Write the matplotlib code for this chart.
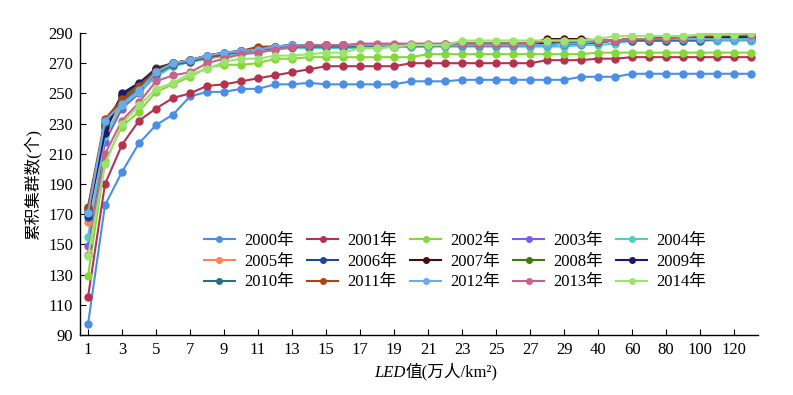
import matplotlib
matplotlib.use("Agg")
import matplotlib.pyplot as plt
from matplotlib.offsetbox import TextArea, HPacker, AnchoredOffsetbox

plt.rcParams['font.family'] = ['Liberation Serif', 'Noto Sans CJK SC']

x_labels = [str(v) for v in list(range(1, 31)) + [40, 50, 60, 70, 80, 90, 100, 110, 120, 130]]
years = ['2000年', '2001年', '2002年', '2003年', '2004年', '2005年', '2006年', '2007年',
         '2008年', '2009年', '2010年', '2011年', '2012年', '2013年', '2014年']

y2000 = [97, 176, 198, 217, 229, 236, 248, 251, 251, 253, 253, 256, 256, 257, 256, 256, 256, 256, 256, 258,
         258, 258, 259, 259, 259, 259, 259, 259, 259, 261, 261, 261, 263, 263, 263, 263, 263, 263, 263, 263]
y2001 = [115, 190, 216, 232, 240, 247, 250, 255, 256, 258, 260, 262, 264, 266, 268, 268, 268, 268, 268, 270,
         270, 270, 270, 270, 270, 270, 270, 272, 272, 272, 273, 273, 274, 274, 274, 274, 274, 274, 274, 274]
y2002 = [129, 205, 228, 238, 251, 256, 261, 267, 269, 269, 270, 273, 273, 274, 274, 274, 274, 274, 274, 274,
         276, 276, 276, 276, 276, 276, 276, 276, 276, 276, 277, 277, 277, 277, 277, 277, 277, 277, 277, 277]
y2003 = [149, 218, 240, 250, 262, 268, 271, 273, 275, 277, 279, 280, 281, 281, 281, 281, 281, 281, 281, 281,
         281, 282, 282, 282, 282, 282, 282, 282, 283, 283, 284, 285, 285, 285, 285, 286, 286, 286, 286, 286]
y2004 = [155, 222, 242, 251, 261, 268, 271, 273, 275, 276, 277, 279, 280, 280, 280, 280, 280, 280, 281, 281,
         281, 281, 281, 281, 281, 281, 281, 281, 281, 282, 282, 283, 285, 285, 285, 285, 285, 285, 285, 285]
y2005 = [165, 226, 244, 253, 264, 270, 272, 274, 276, 278, 280, 281, 281, 282, 282, 282, 282, 282, 282, 282,
         282, 282, 282, 282, 282, 282, 283, 283, 283, 283, 284, 285, 286, 286, 286, 286, 286, 286, 286, 286]
y2006 = [168, 230, 248, 255, 265, 270, 272, 275, 277, 278, 280, 281, 282, 282, 282, 282, 282, 282, 282, 282,
         282, 282, 282, 282, 282, 282, 283, 283, 283, 283, 284, 285, 286, 286, 286, 286, 286, 286, 286, 286]
y2007 = [174, 228, 249, 256, 266, 270, 272, 274, 276, 278, 280, 281, 281, 282, 282, 282, 282, 282, 282, 282,
         282, 282, 283, 283, 283, 283, 283, 286, 286, 286, 285, 285, 286, 286, 287, 287, 287, 287, 288, 288]
y2008 = [173, 230, 247, 256, 267, 270, 272, 274, 276, 278, 280, 281, 281, 282, 282, 282, 282, 282, 282, 282,
         282, 283, 283, 283, 283, 283, 283, 284, 285, 285, 285, 285, 286, 286, 286, 287, 287, 287, 288, 288]
y2009 = [170, 224, 250, 257, 266, 270, 272, 275, 277, 278, 280, 281, 282, 282, 282, 282, 282, 282, 282, 282,
         282, 282, 282, 282, 282, 282, 282, 283, 283, 284, 285, 285, 286, 286, 286, 286, 286, 287, 287, 287]
y2010 = [172, 231, 245, 253, 263, 269, 271, 274, 276, 278, 279, 280, 281, 281, 281, 281, 281, 281, 281, 282,
         282, 282, 282, 282, 282, 282, 282, 282, 283, 283, 284, 285, 285, 285, 285, 285, 285, 286, 286, 286]
y2011 = [175, 233, 246, 255, 265, 270, 272, 274, 276, 278, 281, 281, 281, 282, 282, 282, 282, 282, 282, 282,
         282, 282, 282, 282, 282, 282, 283, 285, 285, 285, 285, 285, 286, 286, 287, 287, 288, 288, 289, 289]
y2012 = [171, 232, 243, 252, 264, 270, 272, 275, 277, 278, 279, 281, 282, 282, 282, 282, 282, 282, 282, 282,
         282, 282, 282, 282, 282, 282, 282, 282, 283, 283, 285, 285, 286, 286, 286, 286, 286, 286, 286, 286]
y2013 = [143, 210, 232, 244, 258, 262, 264, 270, 273, 276, 277, 279, 281, 282, 282, 282, 283, 283, 283, 283,
         283, 283, 283, 283, 283, 283, 283, 285, 285, 285, 285, 285, 286, 286, 286, 287, 289, 289, 289, 289]
y2014 = [142, 203, 230, 242, 253, 257, 263, 266, 271, 273, 273, 275, 275, 276, 277, 277, 280, 280, 281, 282,
         282, 282, 285, 285, 285, 285, 285, 285, 285, 285, 286, 288, 288, 288, 288, 288, 289, 289, 289, 290]

series = [y2000, y2001, y2002, y2003, y2004, y2005, y2006, y2007,
          y2008, y2009, y2010, y2011, y2012, y2013, y2014]
colors = ['#4a8fe7', '#b5324f', '#86d83a', '#7a5de8', '#4ecdc4', '#ff8450', '#1e4799', '#4a0d0d',
          '#3e7a0c', '#1c1870', '#2a6e82', '#a84612', '#6aaaf0', '#c8628c', '#9ce56c']

fig = plt.figure(figsize=(7.93, 3.95), dpi=100)
ax = fig.add_axes([80/793, 1 - 335/395, (758 - 80)/793, (335 - 33)/395])

xpos = list(range(len(x_labels)))
handles = []
for ys, c, lab in zip(series, colors, years):
    h, = ax.plot(xpos, ys, color=c, lw=1.5, marker='o', ms=5, label=lab)
    handles.append(h)

ax.set_xlim(-0.47, 39.4)
ax.set_ylim(90, 290)
ax.set_yticks(range(90, 291, 20))
ax.set_xticks(xpos[::2])
ax.set_xticklabels(x_labels[::2])
ax.tick_params(direction='in', length=4, width=0.8, labelsize=12, pad=5)
for s in ['top', 'right']:
    ax.spines[s].set_visible(False)
for s in ['left', 'bottom']:
    ax.spines[s].set_linewidth(1.0)

ax.set_ylabel('累积集群数(个)', fontsize=12, labelpad=5)

# x label: italic "LED" followed by upright text
ta1 = TextArea('LED', textprops=dict(fontsize=12, style='italic', family='Liberation Serif'))
ta2 = TextArea('值(万人/km²)', textprops=dict(fontsize=12))
pack = HPacker(children=[ta1, ta2], align='baseline', pad=0, sep=0)
anch = AnchoredOffsetbox(loc='upper center', child=pack, frameon=False, pad=0, borderpad=0,
                         bbox_to_anchor=(436/793, 1 - 363/395), bbox_transform=fig.transFigure)
fig.add_artist(anch)

order = []
ncol = 5
for c in range(ncol):
    for r in range(3):
        order.append(r * ncol + c)
leg = ax.legend([handles[i] for i in order], [years[i] for i in order], ncol=5,
                loc='upper left', bbox_to_anchor=(204/793, 1 - 233/395), bbox_transform=fig.transFigure,
                frameon=False, fontsize=12, handlelength=1.85, handletextpad=0.55,
                columnspacing=0.8, labelspacing=0.28, borderpad=0, borderaxespad=0,
                markerscale=0.8)

fig.savefig('out.png', dpi=100)
